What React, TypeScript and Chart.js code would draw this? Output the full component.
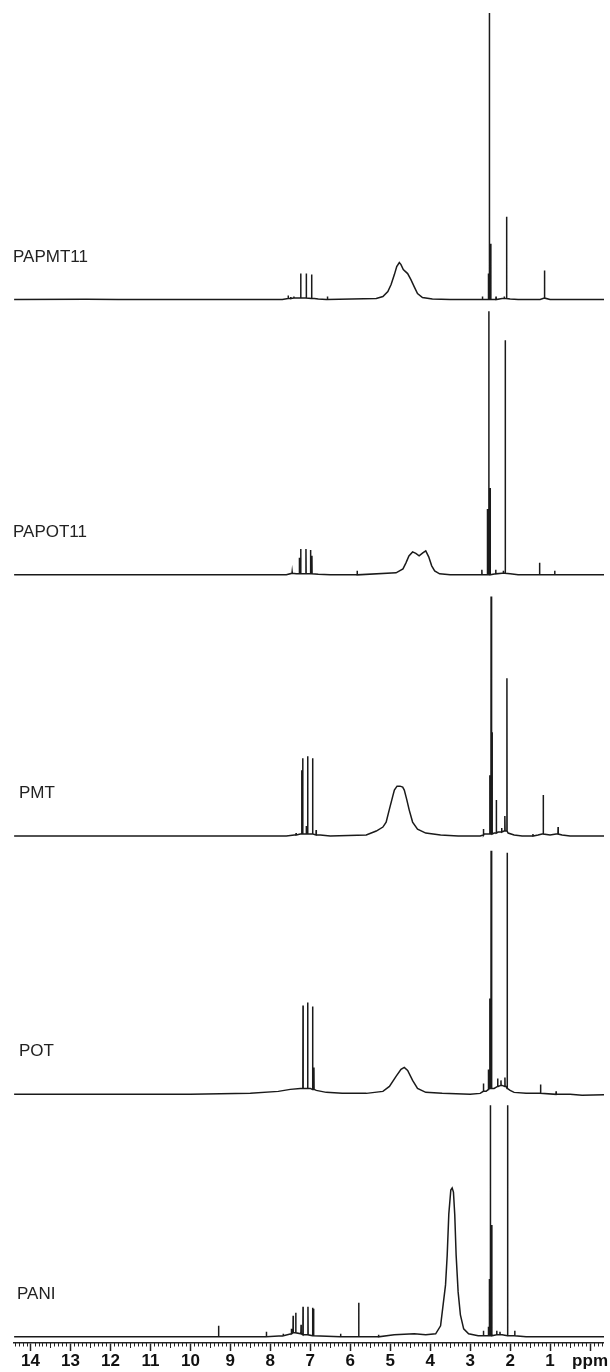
import React, { useEffect, useRef } from "react";
import { Chart, registerables } from "chart.js";

Chart.register(...registerables);

// ---------- axis ----------
const PPM_MIN = -0.347;
const PPM_MAX = 14.413;
const tickLabels = ["ppm", "1", "2", "3", "4", "5", "6", "7", "8", "9", "10", "11", "12", "13", "14"];

// ---------- samples ----------
const sampleNames = ["PAPMT11", "PAPOT11", "PMT", "POT", "PANI"];

// ---------- PAPMT11 ----------
const papmt11Curve: [number, number][] = [
  [14.41, 0], [12.6, 0.3], [11.8, 0], [7.7, 0], [7.55, 1], [7.4, 1.5], [7.28, 1.5], [6.9, 1], [6.8, 0.5], [6.6, 0],
  [5.349, 1], [5.183, 3], [5.059, 8], [4.978, 15], [4.896, 25], [4.837, 33], [4.772, 37], [4.73, 35], [4.673, 30],
  [4.564, 26], [4.482, 20], [4.401, 13], [4.317, 6], [4.193, 2], [3.945, 0.5], [3.5, 0], [2.75, 0], [2.2, 1],
  [2.0, 0.5], [1.8, 0], [1.25, 0], [1.139, 1.5], [1.0, 0], [-0.35, 0],
];
const papmt11Peaks: [number, number, number][] = [
  [7.553, 4, 1], [7.49, 2.5, 1], [7.41, 3, 1.5], [7.239, 26, 1.5], [7.1, 26, 1.5], [6.966, 25, 1], [6.57, 3, 0],
  [2.692, 3, 0], [2.543, 26, 0], [2.519, 287, 0], [2.484, 56, 0], [2.353, 3, 0], [2.147, 3, 1], [2.088, 83, 1],
  [1.139, 29, 1.5],
];

// ---------- PAPOT11 ----------
const papot11Curve: [number, number][] = [
  [14.41, 0], [7.6, 0], [7.45, 1.5], [7.35, 1], [7.0, 1], [6.8, 0.5], [6.5, 0],
  [4.854, 2], [4.681, 6], [4.606, 12], [4.532, 19], [4.44, 23], [4.359, 21.5], [4.277, 19], [4.185, 22],
  [4.111, 24], [4.037, 18], [3.962, 9], [3.888, 4], [3.764, 1], [3.5, 0], [2.75, 0], [2.2, 1.5], [2.0, 1],
  [1.8, 0], [-0.35, 0],
];
const papot11Peaks: [number, number, number][] = [
  [7.454, 3, 1.5], [7.273, 17, 1], [7.239, 26, 1], [7.108, 26, 1], [6.991, 25, 1], [6.959, 19, 1], [5.827, 4, 0],
  [2.707, 5, 0], [2.568, 66, 0], [2.533, 264, 0], [2.501, 87, 0], [2.36, 5, 1], [2.17, 4, 1.5], [2.122, 235, 1.5],
  [1.263, 12, 0], [0.884, 4, 0],
];

// ---------- PMT ----------
const pmtCurve: [number, number][] = [
  [14.41, 0], [7.6, 0], [7.4, 1], [7.25, 2], [6.85, 2], [6.75, 1], [6.5, 0], [5.6, 1], [5.349, 5], [5.183, 9],
  [5.102, 14], [5.02, 27], [4.936, 40], [4.896, 46], [4.829, 50], [4.755, 50], [4.688, 49], [4.648, 46],
  [4.589, 37], [4.524, 26], [4.44, 14], [4.317, 7], [4.111, 3], [3.74, 1], [3.3, 0], [2.75, 0], [2.65, 2],
  [2.4, 3], [2.3, 4], [2.15, 5], [2.05, 3], [1.9, 1], [1.7, 0], [1.3, 1], [1.2, 2], [1.0, 1], [0.85, 2],
  [0.7, 1], [0.5, 0], [-0.35, 0],
];
const pmtPeaks: [number, number, number][] = [
  [7.355, 3, 1], [7.214, 66, 2], [7.189, 78, 2], [7.1, 10, 2], [7.065, 80, 2], [6.941, 78, 2], [6.853, 6, 1],
  [2.667, 7, 1], [2.509, 61, 2], [2.476, 240, 2], [2.452, 104, 2], [2.345, 36, 3], [2.211, 8, 4],
  [2.13, 20, 5], [2.08, 158, 5], [1.429, 2, 0], [1.171, 41, 2], [0.8, 9, 2],
];

// ---------- POT ----------
const potCurve: [number, number][] = [
  [14.41, 0], [10, 0], [8.5, 1], [7.8, 3], [7.5, 5], [7.25, 6], [7.0, 6], [6.85, 4], [6.6, 2], [6.2, 1],
  [5.8, 1], [5.597, 1], [5.183, 3], [5.02, 8], [4.854, 18], [4.73, 25], [4.648, 27], [4.564, 24], [4.44, 14],
  [4.317, 6], [4.111, 2], [3.7, 1], [3.0, 0], [2.75, 1], [2.6, 3], [2.4, 6], [2.3, 8], [2.2, 9], [2.1, 8],
  [2.0, 4], [1.9, 2], [1.6, 1], [1.3, 1], [0.5, 0], [0.2, -1], [-0.35, -0.5],
];
const potPeaks: [number, number, number][] = [
  [7.182, 89, 6], [7.065, 92, 6], [6.941, 88, 5], [6.909, 27, 5],
  [2.667, 11, 3], [2.543, 25, 5], [2.509, 96, 6], [2.476, 244, 6], [2.459, 129, 6], [2.311, 16, 8],
  [2.229, 14, 9], [2.13, 17, 8], [2.073, 242, 6], [1.238, 10, 1], [0.849, 3, 0],
];

// ---------- PANI ----------
const paniCurve: [number, number][] = [
  [14.41, 0], [5.5, 0], [4.9, 2], [4.4, 3], [4.111, 2], [3.863, 3], [3.74, 11], [3.616, 52], [3.574, 82],
  [3.534, 123], [3.484, 147], [3.45, 149], [3.418, 145], [3.385, 122], [3.351, 82], [3.301, 45], [3.244, 22],
  [3.162, 8], [3.039, 3], [2.8, 1], [2.6, 1], [2.2, 2], [1.9, 1], [1.6, 0], [-0.35, 0],
];
const paniPeaks: [number, number, number][] = [
  [9.294, 11, 0], [8.098, 5, 0], [7.677, 3, 1], [7.472, 8, 3], [7.429, 21, 4], [7.363, 24, 4], [7.231, 12, 3],
  [7.182, 30, 2], [7.058, 30, 2], [6.941, 29, 1], [6.917, 28, 1], [6.241, 3, 0], [5.788, 34, 0], [5.292, 2, 0],
  [2.667, 6, 1], [2.543, 10, 1], [2.519, 58, 1], [2.494, 232, 1], [2.459, 112, 1], [2.335, 6, 2],
  [2.254, 5, 2], [2.063, 232, 1], [1.882, 6, 1],
];

const curves = [papmt11Curve, papot11Curve, pmtCurve, potCurve, paniCurve];
const peaks = [papmt11Peaks, papot11Peaks, pmtPeaks, potPeaks, paniPeaks];

// vertical stacking (intensity units above the axis for each trace's baseline)
const STACK = [1045, 769.3, 507.7, 249, 6.2];
const Y_MAX = 1345;
const LABEL_X = [13, 13, 19, 19, 17];
const LABEL_RISE = 38;

function buildTrace(curve: [number, number][], pk: [number, number, number][], offset: number) {
  const pts = curve.map(([x, y]) => ({ x, y: y + offset }));
  for (const [p, h, b] of pk) {
    pts.push({ x: p + 0.004, y: b + offset }, { x: p, y: h + offset }, { x: p - 0.004, y: b + offset });
  }
  pts.sort((a, b) => b.x - a.x);
  return pts;
}

const minorTicks = {
  id: "minorTicks",
  afterDraw(chart: any) {
    const xs = chart.scales.x;
    const ctx = chart.ctx;
    ctx.save();
    ctx.strokeStyle = "#222";
    ctx.lineWidth = 1;
    for (let i = -3; i <= 144; i++) {
      if (i % 10 === 0) continue;
      const px = Math.round(xs.getPixelForValue(i / 10)) + 0.5;
      ctx.beginPath();
      ctx.moveTo(px, xs.top);
      ctx.lineTo(px, xs.top + (i % 5 === 0 ? 5 : 3.5));
      ctx.stroke();
    }
    ctx.restore();
  },
};

const traceLabels = {
  id: "traceLabels",
  afterDatasetsDraw(chart: any) {
    const ys = chart.scales.y;
    const ctx = chart.ctx;
    ctx.save();
    ctx.font = '17px "Liberation Sans", Arial, sans-serif';
    ctx.fillStyle = "#222";
    ctx.textBaseline = "alphabetic";
    ctx.textAlign = "left";
    sampleNames.forEach((n, i) => {
      ctx.fillText(n, LABEL_X[i], ys.getPixelForValue(STACK[i]) - LABEL_RISE);
    });
    ctx.restore();
  },
};

export default function App() {
  const ref = useRef<HTMLCanvasElement | null>(null);
  useEffect(() => {
    if (!ref.current) return;
    const chart = new Chart(ref.current, {
      type: "line",
      data: {
        datasets: sampleNames.map((name, i) => ({
          label: name,
          data: buildTrace(curves[i], peaks[i], STACK[i]),
          borderColor: "#1a1a1a",
          borderWidth: 1.5,
          pointRadius: 0,
          tension: 0,
          fill: false,
        })),
      },
      options: {
        animation: false,
        responsive: false,
        devicePixelRatio: 1,
        parsing: false as any,
        layout: { padding: { left: 14, right: 0, top: 0, bottom: 0 } },
        plugins: { legend: { display: false }, tooltip: { enabled: false } },
        scales: {
          x: {
            type: "linear",
            reverse: true,
            min: PPM_MIN,
            max: PPM_MAX,
            ticks: {
              stepSize: 1,
              includeBounds: false,
              autoSkip: false,
              maxRotation: 0,
              padding: 2,
              color: "#111",
              font: { family: '"Liberation Sans Narrow", "Liberation Sans", Arial, sans-serif', size: 17, weight: "bold", lineHeight: 1 },
              callback: (v: any) => tickLabels[Math.round(Number(v))] ?? "",
            },
            grid: { drawOnChartArea: false, drawTicks: true, tickLength: 8, tickWidth: 1.5, tickColor: "#222" },
            border: { display: true, color: "#222", width: 1.5 },
          },
          y: { type: "linear", display: false, min: 0, max: Y_MAX },
        },
      },
      plugins: [minorTicks, traceLabels],
    });
    return () => chart.destroy();
  }, []);
  return (
    <div style={{ position: "absolute", left: 0, top: 0, width: 610, height: 1372, background: "#fff" }}>
      <canvas ref={ref} width={610} height={1372} style={{ display: "block" }} />
    </div>
  );
}
